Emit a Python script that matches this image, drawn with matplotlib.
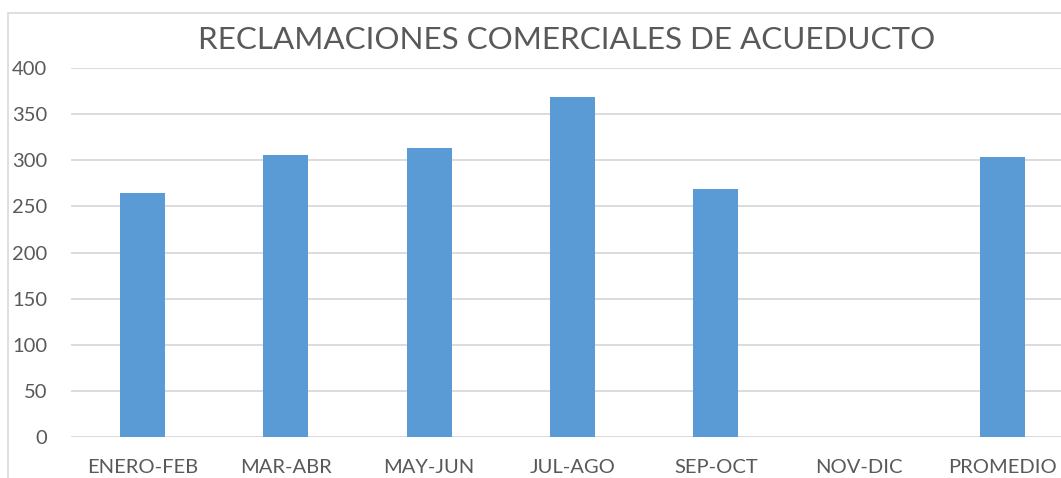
import numpy as np
import matplotlib.pyplot as plt
from matplotlib.patches import Rectangle

categorias = ["ENERO-FEB", "MAR-ABR", "MAY-JUN", "JUL-AGO", "SEP-OCT", "NOV-DIC", "PROMEDIO"]
reclamaciones = [264, 306, 313, 369, 269, 0, 304]
yticks = [0, 50, 100, 150, 200, 250, 300, 350, 400]

W, H = 1061, 478
fig = plt.figure(figsize=(W / 100, H / 100), dpi=100)
plt.rcParams['font.family'] = ['Lato', 'DejaVu Sans']

# zona de trazado (se sale un poco por la derecha)
x0, x1 = 71, 1074
y0, y1 = 437, 68
ax = fig.add_axes([x0 / W, (H - y0) / H, (x1 - x0) / W, (y0 - y1) / H])

x = np.arange(len(categorias))
ax.bar(x, reclamaciones, width=0.314, color="#5b9bd5", zorder=3)
ax.set_xlim(-0.5, len(categorias) - 0.5)
ax.set_ylim(0, 400)
ax.set_yticks(yticks)
ax.set_xticks(x)
ax.set_xticklabels(categorias)
ax.grid(axis="y", color="#d9d9d9", linewidth=1.3, zorder=0)
for s in ax.spines.values():
    s.set_visible(False)
ax.tick_params(length=0, labelsize=14.5, colors="#595959")
ax.tick_params(axis="x", pad=16)
ax.tick_params(axis="y", pad=17)

fig.text(567 / W, 1 - 40 / H, "RECLAMACIONES COMERCIALES DE ACUEDUCTO",
         ha="center", va="center", fontsize=22.6, color="#595959")

# borde del grafico
fig.patches.append(Rectangle((8 / W, -0.1), 1.2, (H - 13) / H + 0.1,
                             transform=fig.transFigure, fill=False,
                             edgecolor="#d9d9d9", linewidth=1.2))

fig.savefig("out.png", dpi=100)
